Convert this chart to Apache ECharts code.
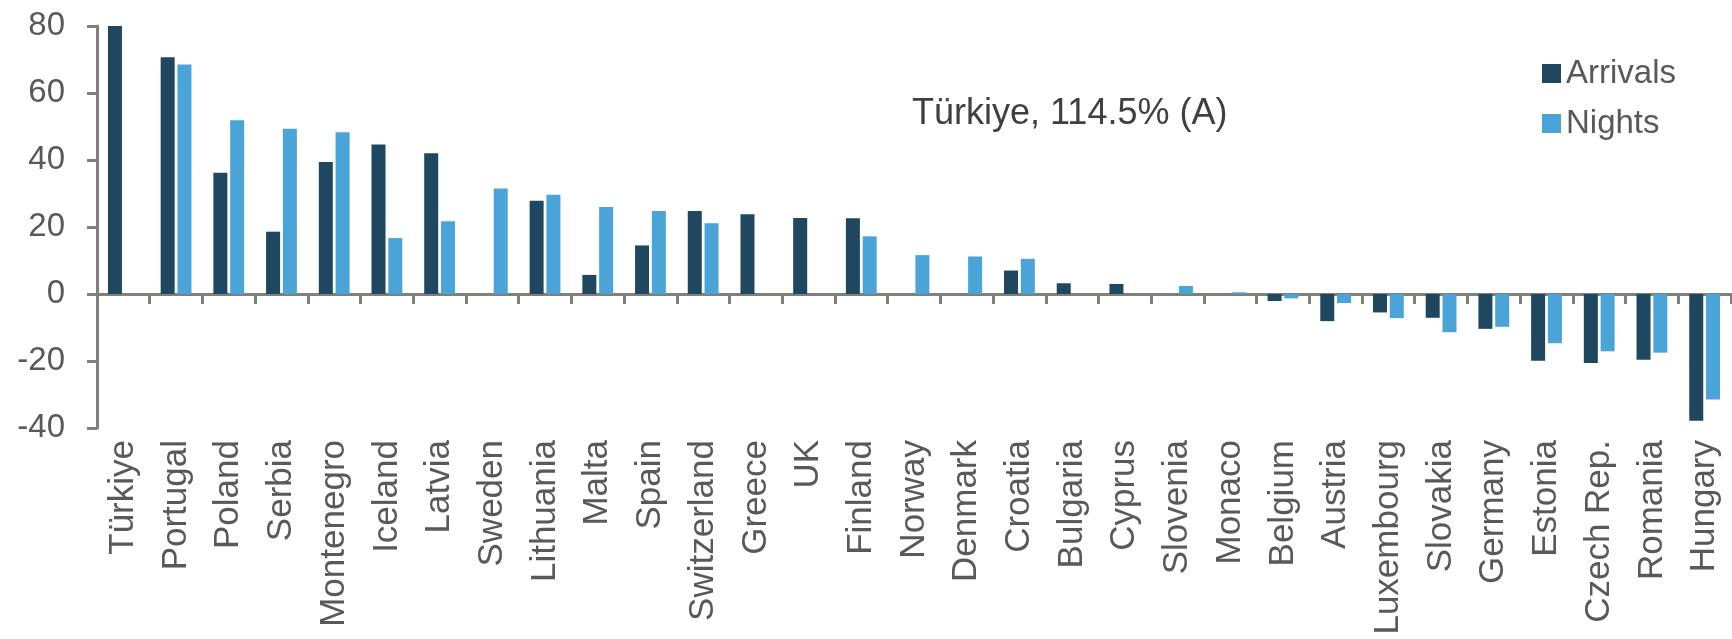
<!DOCTYPE html>
<html>
<head>
<meta charset="utf-8">
<script src="https://cdn.jsdelivr.net/npm/echarts@6/dist/echarts.min.js"></script>
<style>
    html, body { margin: 0; padding: 0; background: #fff; }
    #chart { width: 1732px; height: 639px; }
</style>
</head>
<body>
<div id="chart"></div>
<script>
    var categories = ['Türkiye', 'Portugal', 'Poland', 'Serbia', 'Montenegro', 'Iceland', 'Latvia', 'Sweden',
        'Lithuania', 'Malta', 'Spain', 'Switzerland', 'Greece', 'UK', 'Finland', 'Norway', 'Denmark',
        'Croatia', 'Bulgaria', 'Cyprus', 'Slovenia', 'Monaco', 'Belgium', 'Austria', 'Luxembourg',
        'Slovakia', 'Germany', 'Estonia', 'Czech Rep.', 'Romania', 'Hungary'];

    // % change (Türkiye arrivals runs off the top: 114.5)
    var arrivals = [114.5, 70.7, 36.2, 18.6, 39.4, 44.6, 42.0, null, 27.8, 5.7, 14.5, 24.8, 23.8, 22.7,
        22.6, null, null, 7.0, 3.2, 3.0, null, null, -2.1, -8.1, -5.5, -7.1, -10.4, -19.9, -20.6, -19.6, -37.8];
    var nights = [null, 68.5, 51.9, 49.3, 48.3, 16.7, 21.7, 31.5, 29.6, 26.0, 24.8, 21.1, null, null,
        17.2, 11.6, 11.2, 10.5, null, null, 2.4, 0.5, -1.3, -2.7, -7.2, -11.4, -9.8, -14.7, -17.1, -17.5, -31.5];

    var yTicks = [-40, -20, 0, 20, 40, 60, 80];
    var note = 'Türkiye, 114.5% (A)';

    var font = '"Liberation Sans", Arial, sans-serif';
    var axisGrey = '#7f7f7b';

    var chartDom = document.getElementById('chart');
    var myChart = echarts.init(chartDom);
    var option;

    option = {
        animation: false,
        textStyle: { fontFamily: font },
        color: ['#1f4860', '#4ba4d7'],
        grid: { left: 97, right: 1, top: 26, bottom: 211, containLabel: false },
        legend: {
            orient: 'vertical',
            left: 1537,
            top: 52,
            icon: 'rect',
            itemWidth: 19,
            itemHeight: 19,
            itemGap: 17,
            textStyle: { fontSize: 33, color: '#595959', fontFamily: font },
            data: ['Arrivals', 'Nights']
        },
        graphic: [{
            type: 'text',
            x: 912,
            y: 114,
            style: {
                text: note,
                fontSize: 36,
                fontFamily: font,
                fill: '#404040',
                verticalAlign: 'middle'
            }
        }],
        xAxis: [
            {
                // axis line at zero with the category ticks
                type: 'category',
                data: categories,
                axisLine: { onZero: true, lineStyle: { color: axisGrey, width: 3 } },
                axisTick: { show: true, interval: 0, length: 10, lineStyle: { color: axisGrey, width: 3 } },
                axisLabel: { show: false, interval: 0 },
                splitLine: { show: false }
            },
            {
                // labels only, kept under the plot
                type: 'category',
                data: categories,
                position: 'bottom',
                axisLine: { show: false, onZero: false },
                axisTick: { show: false },
                axisLabel: { interval: 0, rotate: 90, fontSize: 35, margin: 12, color: '#595959', fontFamily: font }
            }
        ],
        yAxis: {
            type: 'value',
            min: yTicks[0],
            max: yTicks[yTicks.length - 1],
            interval: 20,
            axisLine: { show: true, lineStyle: { color: axisGrey, width: 3 } },
            axisTick: { show: true, length: 10, lineStyle: { color: axisGrey, width: 3 } },
            axisLabel: { fontSize: 33, margin: 32, color: '#595959', fontFamily: font },
            splitLine: { show: false }
        },
        series: [
            {
                name: 'Arrivals',
                type: 'bar',
                xAxisIndex: 0,
                barWidth: 14,
                barGap: '20%',
                clip: true,
                data: arrivals
            },
            {
                name: 'Nights',
                type: 'bar',
                xAxisIndex: 0,
                barWidth: 14,
                barGap: '20%',
                clip: true,
                data: nights
            }
        ]
    };

    option && myChart.setOption(option);
</script>
</body>
</html>
